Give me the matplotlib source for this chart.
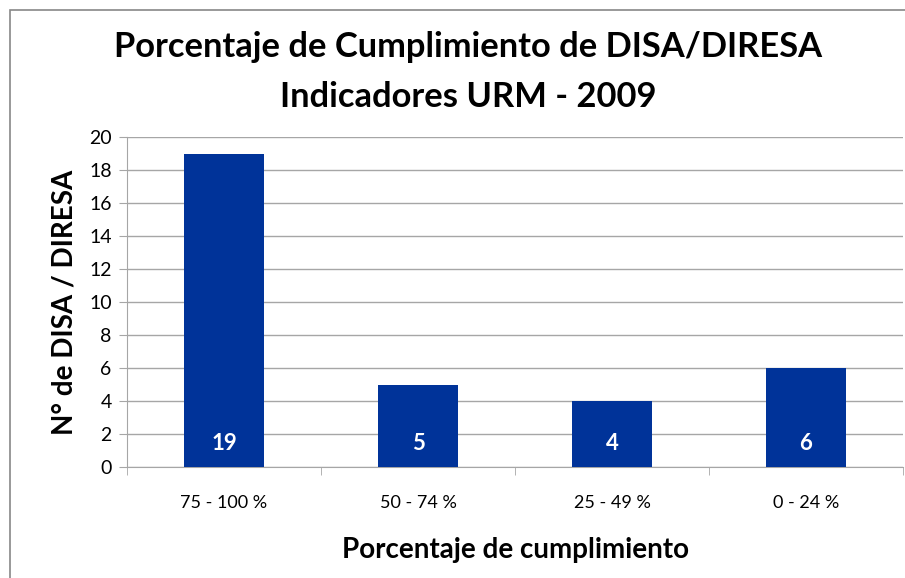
import numpy as np
import matplotlib.pyplot as plt
from matplotlib.patches import Rectangle

# Datos del gráfico
categorias = ['75 - 100 %', '50 - 74 %', '25 - 49 %', '0 - 24 %']
valores = [19, 5, 4, 6]

color_barra = '#003399'
gris = '#a6a6a6'

fig = plt.figure(figsize=(9.05, 5.78), dpi=100)
ax = fig.add_axes([127 / 905, (578 - 467) / 578, (903 - 127) / 905, (467 - 137) / 578])

x = np.arange(len(categorias))
barras = ax.bar(x, valores, width=0.41, color=color_barra, zorder=3)

# Etiquetas dentro de las barras
for xi, v in zip(x, valores):
    ax.text(xi, 1.45, str(v), ha='center', va='center', color='white',
            fontsize=16, fontweight='bold', family='Lato', zorder=4)

ax.set_xlim(-0.5, len(categorias) - 0.5)
ax.set_ylim(0, 20)
ax.set_yticks(range(0, 21, 2))
ax.yaxis.grid(True, color=gris, lw=1, zorder=0)

ax.set_xticks(x)
ax.set_xticklabels(categorias, fontsize=13, family='Lato')
ax.set_xticks(np.arange(-0.5, len(categorias)), minor=True)
ax.tick_params(axis='x', which='major', length=0, pad=20)
ax.tick_params(axis='x', which='minor', length=6, color=gris)
ax.tick_params(axis='y', length=6, color=gris, labelsize=14, pad=5)
for lab in ax.get_yticklabels():
    lab.set_family('Lato')

for s in ['top', 'right']:
    ax.spines[s].set_visible(False)
ax.spines['left'].set_color(gris)
ax.spines['bottom'].set_color(gris)

ax.set_xlabel('Porcentaje de cumplimiento', fontsize=20, fontweight='bold',
              family='Lato', labelpad=19)
ax.set_ylabel('N° de DISA / DIRESA', fontsize=20, fontweight='bold',
              family='Lato', labelpad=8)

fig.text(468 / 905, 1 - 47 / 578, 'Porcentaje de Cumplimiento de DISA/DIRESA',
         ha='center', va='center', fontsize=24.8, fontweight='bold', family='Lato')
fig.text(468 / 905, 1 - 97 / 578, 'Indicadores URM - 2009',
         ha='center', va='center', fontsize=24.8, fontweight='bold', family='Lato')

# Marco exterior del gráfico
fig.patches.append(Rectangle((10 / 905, -0.05), 1.0, 1 - 10 / 578 + 0.05,
                             transform=fig.transFigure, fill=False,
                             edgecolor='#888888', lw=1.2))

fig.savefig('out.png', dpi=100)
